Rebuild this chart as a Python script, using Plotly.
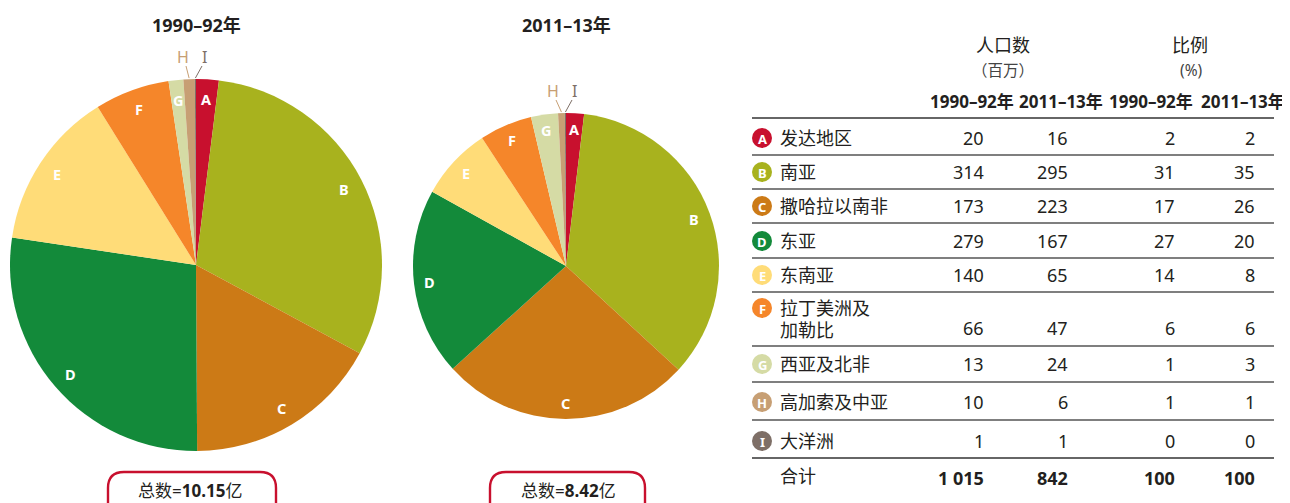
import numpy as np
import plotly.graph_objects as go

# ---------------- data ----------------
letters = ["A", "B", "C", "D", "E", "F", "G", "H", "I"]
regions = ["发达地区", "南亚", "撒哈拉以南非", "东亚", "东南亚", "拉丁美洲及<br>加勒比",
           "西亚及北非", "高加索及中亚", "大洋洲"]
pop_1990 = [20, 314, 173, 279, 140, 66, 13, 10, 1]
pop_2011 = [16, 295, 223, 167, 65, 47, 24, 6, 1]
pct_1990 = [2, 31, 17, 27, 14, 6, 1, 1, 0]
pct_2011 = [2, 35, 26, 20, 8, 6, 3, 1, 0]
totals = ["1 015", "842", "100", "100"]
period_labels = ["1990–92年", "2011–13年"]
total_texts = ["总数=<b>10.15</b>亿", "总数=<b>8.42</b>亿"]
colors = ["#C8102E", "#A8B21E", "#CC7A16", "#138A3A", "#FFDC78", "#F5862A",
          "#D5DBA5", "#C79F74", "#7E6F67"]

# page has an 8px body margin: figure is drawn 8px in, so size it to fit the window
OFF = 8
W, H = 1290 - OFF, 503 - OFF
TXT = "#231F20"
FONT = "Noto Sans, Noto Sans CJK SC"

fig = go.Figure()

# pies: (center x, center y, radius) in window pixels
pies = [(196, 265, 186, pop_1990), (566, 266, 153, pop_2011)]
annotations = []
shapes = []

def ann(x, y, text, size=16, color=TXT, xanchor="center", bold=False, yanchor="middle", family=FONT):
    annotations.append(dict(x=x, y=y, xref="x", yref="y", text=("<b>%s</b>" % text) if bold else text,
                            showarrow=False, xanchor=xanchor, yanchor=yanchor,
                            font=dict(size=size, color=color, family=family)))

for i, (cx, cy, r, vals) in enumerate(pies):
    px, py = cx - OFF, cy - OFF
    fig.add_trace(go.Pie(
        values=vals, labels=letters, sort=False, direction="clockwise", rotation=0,
        marker=dict(colors=colors, line=dict(width=0)), textinfo="none",
        hoverinfo="label+value", showlegend=False,
        domain=dict(x=[(px - r) / W, (px + r) / W], y=[(H - py - r) / H, (H - py + r) / H]),
    ))
    v = np.array(vals, dtype=float)
    cum = np.cumsum(v)
    mid = (cum - v / 2) / v.sum() * 2 * np.pi
    for j, L in enumerate(letters):
        if L in ("H", "I"):
            ex = cx + r * np.sin(mid[j])
            ey = cy - r * np.cos(mid[j])
            lx = cx - 13 if L == "H" else cx + 8
            ly = cy - r - 22
            shapes.append(dict(type="line", xref="x", yref="y", x0=ex, y0=ey - 1,
                               x1=lx + (3 if L == "H" else -2), y1=ly + 9,
                               line=dict(color=colors[j], width=1)))
            ann(lx, ly, L, size=16, color=colors[j])
        else:
            k = 0.895
            ann(cx + k * r * np.sin(mid[j]), cy - k * r * np.cos(mid[j]), L, size=14.5,
                color="white", bold=True)
    # title
    ann(cx, 25, period_labels[i], size=18, bold=True)

# total boxes
boxes = [(108, 276, 190), (490, 645, 568)]
for (x0, x1, tx), t in zip(boxes, total_texts):
    rr = 16
    y0, y1 = 472, 525
    path = (f"M {x0+rr},{y0} L {x1-rr},{y0} Q {x1},{y0} {x1},{y0+rr} L {x1},{y1} "
            f"L {x0},{y1} L {x0},{y0+rr} Q {x0},{y0} {x0+rr},{y0} Z")
    shapes.append(dict(type="path", xref="x", yref="y", path=path,
                       line=dict(color="#C8102E", width=2.4), fillcolor="rgba(0,0,0,0)"))
    ann(tx, 490, t, size=17)

# ---------------- table ----------------
col_right = [986, 1070, 1177, 1257]
col_head_c = [972, 1061, 1151, 1243]
ann(1003, 45, "人口数", size=18)
ann(1003, 70, "（百万）", size=15.5, color="#444")
ann(1190, 45, "比例", size=18)
ann(1191, 70, "(%)", size=15.5, color="#444")
for c, lab in zip(col_head_c, period_labels * 2):
    ann(c, 101, lab, size=17, bold=True)

row_y = [138, 172, 206, 241, 275, 319, 364, 402, 441]
line_y = [118, 155, 189, 223, 258, 292, 346, 382, 420, 458]
for k, ly in enumerate(line_y):
    col = "#333" if k in (0, 9) else "#555"
    shapes.append(dict(type="line", xref="x", yref="y", x0=752, x1=1274, y0=ly, y1=ly,
                       line=dict(color=col, width=1.3)))

for j in range(len(letters)):
    y = row_y[j]
    num_y = 328 if letters[j] == "F" else y
    icon_y = 308 if letters[j] == "F" else y
    shapes.append(dict(type="circle", xref="x", yref="y", x0=752, x1=772, y0=icon_y - 10,
                       y1=icon_y + 10, fillcolor=colors[j], line=dict(width=0)))
    ann(762, icon_y + 0.5, letters[j], size=13, color="white", bold=True)
    if letters[j] == "F":
        ann(778, 308, "拉丁美洲及", size=18, xanchor="left")
        ann(778, 330, "加勒比", size=18, xanchor="left")
    else:
        ann(778, y, regions[j], size=18, xanchor="left")
    for c, val in zip(col_right, [pop_1990[j], pop_2011[j], pct_1990[j], pct_2011[j]]):
        ann(c, num_y, str(val), size=18, xanchor="right")

ann(778, 476, "合计", size=18, xanchor="left")
for c, t in zip(col_right, totals):
    ann(c, 478, t, size=18, xanchor="right", bold=True)

fig.update_layout(
    width=W, height=H, margin=dict(l=0, r=0, t=0, b=0),
    paper_bgcolor="white", plot_bgcolor="rgba(0,0,0,0)",
    xaxis=dict(range=[OFF, 1290], visible=False, fixedrange=True),
    yaxis=dict(range=[503, OFF], visible=False, fixedrange=True),
    shapes=shapes, annotations=annotations, showlegend=False,
)
fig.write_html("out.html")
